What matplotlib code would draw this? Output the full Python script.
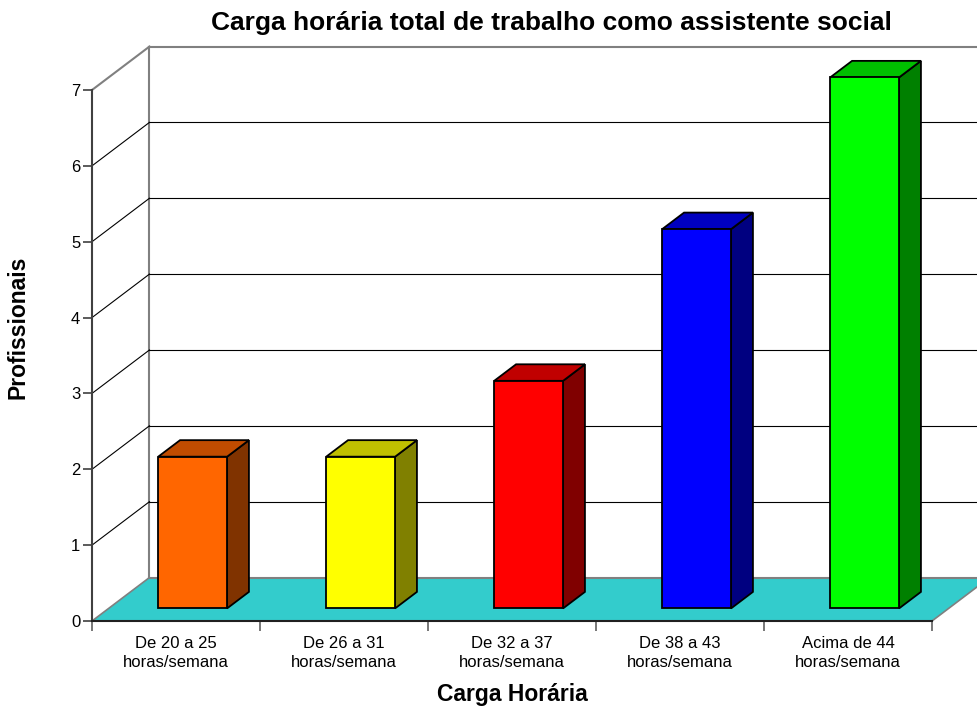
import matplotlib.pyplot as plt
from matplotlib.patches import Polygon

# data
categorias = ["De 20 a 25\nhoras/semana", "De 26 a 31\nhoras/semana",
              "De 32 a 37\nhoras/semana", "De 38 a 43\nhoras/semana",
              "Acima de 44\nhoras/semana"]
profissionais = [2, 2, 3, 5, 7]
cor_frente = ["#FF6600", "#FFFF00", "#FF0000", "#0000FF", "#00FF00"]
cor_topo = ["#C04C00", "#C0C000", "#C00000", "#0000C0", "#00C000"]
cor_lado = ["#803300", "#808000", "#800000", "#000080", "#008000"]

plt.rcParams['font.family'] = ['Liberation Sans', 'DejaVu Sans']

# fake 3d depth offset (data units)
DX = 0.342
DY = 0.573
largura = 0.41
f0, f1 = 0.29, 0.67
ymax = 7
n = len(categorias)

fig = plt.figure(figsize=(9.77, 7.06), dpi=100)
ax = fig.add_axes([92/977, 85/706, 840/977, 531/706])
ax.set_xlim(0, n)
ax.set_ylim(0, ymax)

# back wall
ax.plot([DX, DX], [DY, ymax + DY], color="#808080", lw=1.5, clip_on=False, zorder=1)
for v in range(1, ymax):
    ax.plot([DX, n + DX], [v + DY, v + DY], color="black", lw=0.8, clip_on=False, zorder=1)
    ax.plot([0, DX], [v, v + DY], color="black", lw=0.8, clip_on=False, zorder=1)
ax.plot([DX, n + DX], [ymax + DY, ymax + DY], color="#808080", lw=1.5, clip_on=False, zorder=1)
ax.plot([0, DX], [ymax, ymax + DY], color="#808080", lw=1.5, clip_on=False, zorder=1)

# floor
piso = Polygon([(0, 0), (DX, DY), (n + DX, DY), (n, 0)], closed=True,
               facecolor="#33CCCC", edgecolor="none", clip_on=False, zorder=2)
ax.add_patch(piso)
ax.plot([0, DX], [0, DY], color="#808080", lw=1.2, clip_on=False, zorder=2)
ax.plot([DX, n + DX], [DY, DY], color="#808080", lw=1.5, clip_on=False, zorder=2)
ax.plot([n, n + DX], [0, DY], color="#808080", lw=1.2, clip_on=False, zorder=2)

# bars
for i, v in enumerate(profissionais):
    x0 = i + 0.5 - largura / 2 + f0 * DX
    x1 = x0 + largura
    y0 = f0 * DY
    y1 = v + f0 * DY
    ddx = (f1 - f0) * DX
    ddy = (f1 - f0) * DY
    frente = Polygon([(x0, y0), (x1, y0), (x1, y1), (x0, y1)], closed=True,
                     facecolor=cor_frente[i], edgecolor="black", lw=1.3,
                     zorder=4, clip_on=False)
    topo = Polygon([(x0, y1), (x1, y1), (x1 + ddx, y1 + ddy), (x0 + ddx, y1 + ddy)],
                   closed=True, facecolor=cor_topo[i], edgecolor="black", lw=1.3,
                   zorder=3, clip_on=False)
    lado = Polygon([(x1, y0), (x1 + ddx, y0 + ddy), (x1 + ddx, y1 + ddy), (x1, y1)],
                   closed=True, facecolor=cor_lado[i], edgecolor="black", lw=1.3,
                   zorder=3, clip_on=False)
    ax.add_patch(lado)
    ax.add_patch(topo)
    ax.add_patch(frente)

# axes
ax.set_facecolor("none")
for s in ["top", "right"]:
    ax.spines[s].set_visible(False)
ax.spines["left"].set_color("#404040")
ax.spines["left"].set_linewidth(1.5)
ax.spines["bottom"].set_color("#202020")
ax.spines["bottom"].set_linewidth(1.5)
ax.spines["left"].set_zorder(5)
ax.spines["bottom"].set_zorder(5)

ax.set_yticks(range(0, ymax + 1))
ax.tick_params(axis="y", length=6.5, width=1.2, color="#404040", labelsize=12, pad=2)
ax.set_xticks(range(0, n + 1))
ax.set_xticklabels([])
ax.tick_params(axis="x", which="major", length=7, width=1.2, color="#606060")
ax.set_xticks([i + 0.5 for i in range(n)], minor=True)
ax.set_xticklabels(categorias, minor=True, fontsize=12, linespacing=1.32)
ax.tick_params(axis="x", which="minor", length=0, pad=11)

fig.text(551/977, 0.967, "Carga horária total de trabalho como assistente social",
         ha="center", va="center", fontsize=19, fontweight="bold")
fig.text(512/977, 1 - 695/706, "Carga Horária", ha="center", va="center",
         fontsize=16.5, fontweight="bold")
fig.text(18/977, 1 - 327/706, "Profissionais", ha="center", va="center",
         rotation=90, fontsize=16.5, fontweight="bold")

fig.savefig("out.png", dpi=100)
